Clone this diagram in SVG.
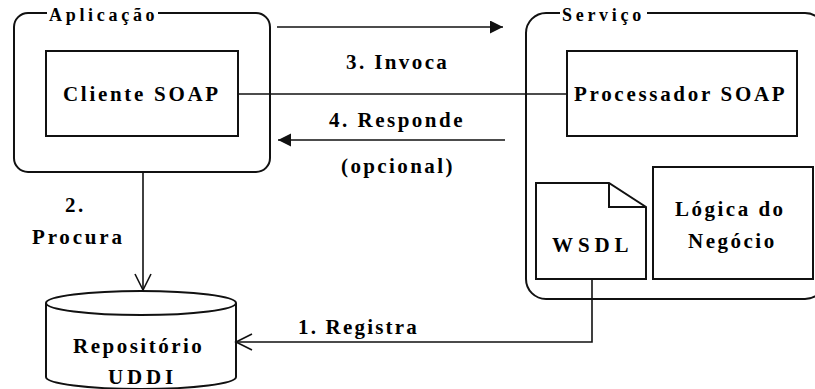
<svg xmlns="http://www.w3.org/2000/svg" width="815" height="389" viewBox="0 0 815 389">
<style>
  .box { fill: #fff; stroke: #111; stroke-width: 2; }
  .ln { fill: none; stroke: #111; stroke-width: 1.6; }
  .t { font-family: "Liberation Serif", "Times New Roman", serif; font-weight: bold; font-size: 21px; fill: #000; letter-spacing: 2.5px; }
  .title { font-size: 18px; letter-spacing: 3.7px; }
</style>
<defs>
  <marker id="fillArrow" markerUnits="userSpaceOnUse" markerWidth="14" markerHeight="14" refX="13" refY="6.5" orient="auto">
    <path d="M0,0 L13,6.5 L0,13 Z" fill="#111"/>
  </marker>
  <marker id="openArrow" markerUnits="userSpaceOnUse" markerWidth="20" markerHeight="20" refX="17" refY="9" orient="auto">
    <path d="M1,1 L17,9 L1,17" fill="none" stroke="#111" stroke-width="1.6"/>
  </marker>
</defs>
<rect width="815" height="389" fill="#fff"/>

<g id="aplicacao">
  <rect class="box" x="14" y="13" width="256" height="159" rx="14" ry="14"/>
  <rect x="47" y="4" width="111" height="18" fill="#fff"/>
  <text class="t title" x="49" y="21">Aplicação</text>
</g>

<g id="servico">
  <rect class="box" x="526" y="13" width="299" height="286" rx="20" ry="20"/>
  <rect x="560" y="4" width="87" height="18" fill="#fff"/>
  <text class="t title" x="562" y="21">Serviço</text>
</g>

<g id="cliente-soap">
  <rect class="box" x="46" y="51" width="192" height="85"/>
  <text class="t" x="63" y="101" style="letter-spacing:2.7px">Cliente SOAP</text>
</g>

<g id="processador-soap">
  <rect class="box" x="567" y="51" width="230" height="85"/>
  <text class="t" x="574" y="101" style="letter-spacing:2.7px">Processador SOAP</text>
</g>

<g id="wsdl">
  <path class="box" d="M536,183 H609 L646,207 V279 H536 Z"/>
  <path class="ln" d="M609,183 V207 H646" style="stroke-width:2"/>
  <text class="t" x="552" y="252" style="letter-spacing:4.9px">WSDL</text>
</g>

<g id="logica-negocio">
  <rect class="box" x="653" y="167" width="160" height="112"/>
  <text class="t" x="675" y="216">Lógica do</text>
  <text class="t" x="688" y="248">Negócio</text>
</g>

<g id="repositorio-uddi">
  <path class="box" d="M46,303 V377 A95,12 0 0 0 236,377 V303"/>
  <ellipse class="box" cx="141" cy="303" rx="95" ry="12"/>
  <text class="t" x="73" y="353">Repositório</text>
  <text class="t" x="108" y="384" style="letter-spacing:3.8px">UDDI</text>
</g>

<g id="connectors">
  <line class="ln" x1="238" y1="94" x2="567" y2="94"/>
  <line class="ln" x1="277" y1="27" x2="503" y2="27" marker-end="url(#fillArrow)"/>
  <line class="ln" x1="505" y1="140" x2="278" y2="140" marker-end="url(#fillArrow)"/>
  <line class="ln" x1="143" y1="172" x2="143" y2="290" marker-end="url(#openArrow)"/>
  <polyline class="ln" points="592,279 592,342 236,342" marker-end="url(#openArrow)"/>
  <text class="t" x="346" y="69" style="letter-spacing:2.4px">3. Invoca</text>
  <text class="t" x="329" y="127">4. Responde</text>
  <text class="t" x="341" y="173" style="letter-spacing:2.4px">(opcional)</text>
  <text class="t" x="65" y="212">2.</text>
  <text class="t" x="32" y="244" style="letter-spacing:2.8px">Procura</text>
  <text class="t" x="298" y="334" style="letter-spacing:2.2px">1. Registra</text>
</g>
</svg>
